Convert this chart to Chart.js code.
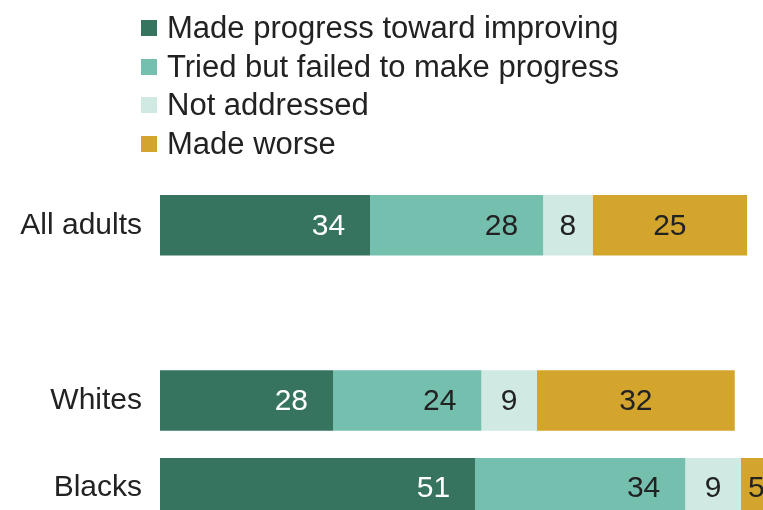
<!DOCTYPE html>
<html>
<head>
<meta charset="utf-8">
<script src="https://cdn.jsdelivr.net/npm/chart.js@4"></script>
<style>
  html, body { margin: 0; padding: 0; background: #fff; overflow: hidden; }
  #wrap { position: relative; width: 763px; height: 510px; overflow: hidden; }
  #box { position: absolute; left: 0; top: 0; width: 780px; height: 560px; }
  #legend { position: absolute; left: 141px; top: 9px; font-family: "Liberation Sans", Arial, sans-serif; font-size: 31px; color: #222; }
  .row { display: flex; align-items: center; height: 38.5px; white-space: nowrap; }
  .sw { width: 16px; height: 16px; margin-right: 10px; flex: none; }
</style>
</head>
<body>
<div id="wrap">
  <div id="box"><canvas id="chart"></canvas></div>
  <div id="legend"></div>
</div>
<script>
var groups = ["All adults", "", "Whites", "Blacks"];
var seriesNames = ["Made progress toward improving", "Tried but failed to make progress", "Not addressed", "Made worse"];
var improved = [34, null, 28, 51];
var triedFailed = [28, null, 24, 34];
var notAddressed = [8, null, 9, 9];
var madeWorse = [25, null, 32, 5];
var colors = ["#37745f", "#75bfae", "#d0e9e3", "#d4a52d"];
var labelColors = ["#ffffff", "#222222", "#222222", "#222222"];

var legendEl = document.getElementById("legend");
seriesNames.forEach(function (name, i) {
  var row = document.createElement("div");
  row.className = "row";
  var sw = document.createElement("span");
  sw.className = "sw";
  sw.style.background = colors[i];
  var tx = document.createElement("span");
  tx.textContent = name;
  row.appendChild(sw);
  row.appendChild(tx);
  legendEl.appendChild(row);
});

// value labels inside the bars
var barLabels = {
  id: "barLabels",
  afterDatasetsDraw: function (chart) {
    var ctx = chart.ctx;
    ctx.save();
    ctx.font = "30px 'Liberation Sans', Arial, sans-serif";
    ctx.textBaseline = "middle";
    chart.data.datasets.forEach(function (ds, i) {
      chart.getDatasetMeta(i).data.forEach(function (bar, j) {
        var v = ds.data[j];
        if (v == null) return;
        ctx.fillStyle = labelColors[i];
        if (i < 2) {
          ctx.textAlign = "right";
          ctx.fillText(v, bar.x - 25, bar.y + 1);
        } else {
          ctx.textAlign = "center";
          ctx.fillText(v, (bar.x + bar.base) / 2, bar.y + 1);
        }
      });
    });
    ctx.restore();
  }
};

var data = [improved, triedFailed, notAddressed, madeWorse];

new Chart("chart", {
  type: "bar",
  data: {
    labels: groups,
    datasets: seriesNames.map(function (name, i) {
      return {
        label: name,
        data: data[i],
        backgroundColor: colors[i],
        borderWidth: 0,
        categoryPercentage: 1,
        barPercentage: 0.69
      };
    })
  },
  options: {
    indexAxis: "y",
    responsive: true,
    maintainAspectRatio: false,
    animation: false,
    layout: { padding: { top: 181.5, bottom: 0, left: 0, right: 2 } },
    plugins: {
      legend: { display: false },
      tooltip: { enabled: false }
    },
    scales: {
      x: {
        stacked: true,
        display: false,
        min: 0,
        max: 100
      },
      y: {
        stacked: true,
        grid: { display: false },
        border: { display: false },
        ticks: {
          padding: 10,
          color: "#222",
          font: { family: "'Liberation Sans', Arial, sans-serif", size: 30 }
        },
        afterFit: function (scale) { scale.width = 160; }
      }
    }
  },
  plugins: [barLabels]
});
</script>
</body>
</html>
